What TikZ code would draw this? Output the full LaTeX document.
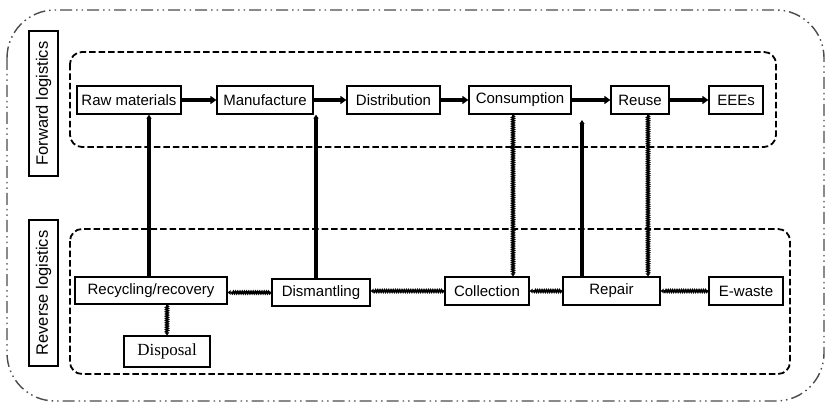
\documentclass[tikz,border=0pt]{standalone}
\usepackage{fontspec}
\setmainfont{Liberation Sans}
\newfontfamily\serifx{Liberation Serif}
\usetikzlibrary{arrows.meta,decorations.pathmorphing}
\begin{document}
\begin{tikzpicture}[x=1pt,y=-1pt,
  box/.style={draw,line width=1.2pt,rectangle,inner sep=0pt,minimum height=28pt,font=\fontsize{15}{17}\selectfont},
  sidebox/.style={draw,line width=1.4pt,rectangle,inner sep=0pt,rotate=90,minimum height=29pt,font=\fontsize{16.5}{18}\selectfont},
  region/.style={draw,line width=1.8pt,dash pattern=on 6.5pt off 3pt,rounded corners=12pt},
  fwd/.style={line width=3.8pt,-{Triangle[length=6pt,width=8pt]}},
  up/.style={line width=3.6pt,-{Triangle[length=4pt,width=5pt]}},
  wav/.style={line width=1.8pt,decorate,decoration={snake,amplitude=1pt,segment length=2.2pt,pre length=1pt,post length=3pt},-{Triangle[length=3pt,width=4.5pt]}}
]
\useasboundingbox (0,0) rectangle (826,403);
% outer border
\draw[gray!60!black,line width=1.4pt,rounded corners=48pt,dash pattern=on 12pt off 4pt on 1.5pt off 4pt on 1.5pt off 4pt] (7,10) rectangle (824,401);
% regions
\draw[region] (70,52) rectangle (776,147);
\draw[region] (70,229) rectangle (790,374);
% side labels
\node[sidebox,minimum width=145pt] (fl) at (43.5,103.5) {Forward logistics};
\node[sidebox,minimum width=146pt] (rl) at (43.5,293) {Reverse logistics};
% forward nodes
\node[box,minimum width=104pt] (raw) at (129,100) {Raw materials};
\node[box,minimum width=96pt] (man) at (265,100) {Manufacture};
\node[box,minimum width=93pt] (dis) at (393.5,100) {Distribution};
\node[box,minimum width=102pt] (con) at (520,100) {Consumption};
\node[box,minimum width=58pt] (reu) at (640,100) {Reuse};
\node[box,minimum width=54pt] (eee) at (736,100) {EEEs};
% reverse nodes
\node[box,minimum width=152pt,minimum height=27pt] (rec) at (151,290.5) {Recycling/recovery};
\node[box,minimum width=98pt,minimum height=27pt] (dsm) at (321,292.5) {Dismantling};
\node[box,minimum width=84pt] (col) at (487,291) {Collection};
\node[box,minimum width=97pt] (rep) at (611.5,291) {Repair};
\node[box,minimum width=74pt] (ew) at (746,291) {E-waste};
\node[box,minimum width=86pt,minimum height=31pt,font=\serifx\fontsize{17}{19}\selectfont] (dsp) at (167,351.5) {Disposal};
% x positions
\coordinate (xa) at (149,0);
\coordinate (xb) at (316,0);
\coordinate (xc) at (513,0);
\coordinate (xd) at (582,0);
\coordinate (xe) at (648,0);
\coordinate (xf) at (167,0);
\coordinate (rpend) at (582,120);
% forward arrows
\draw[fwd] (raw) -- (man);
\draw[fwd] (man) -- (dis);
\draw[fwd] (dis) -- (con);
\draw[fwd] (con) -- (reu);
\draw[fwd] (reu) -- (eee);
% upward solid arrows
\draw[up] (rec.north -| xa) -- (raw.south -| xa);
\draw[up] (dsm.north -| xb) -- (man.south -| xb);
\draw[up] (rep.north -| xd) -- (rpend);
% wavy arrows
\draw[wav] (con.south -| xc) -- (col.north -| xc);
\draw[wav] (reu.south -| xe) -- (rep.north -| xe);
\draw[wav] (ew.west) -- (rep.east);
\draw[wav] (rep.west) -- (col.east);
\draw[wav] (col.west) -- (dsm.east |- col.west);
\draw[wav] (dsm.west) -- (rec.east |- dsm.west);
\draw[wav] (rec.south -| xf) -- (dsp.north);
\end{tikzpicture}
\end{document}
